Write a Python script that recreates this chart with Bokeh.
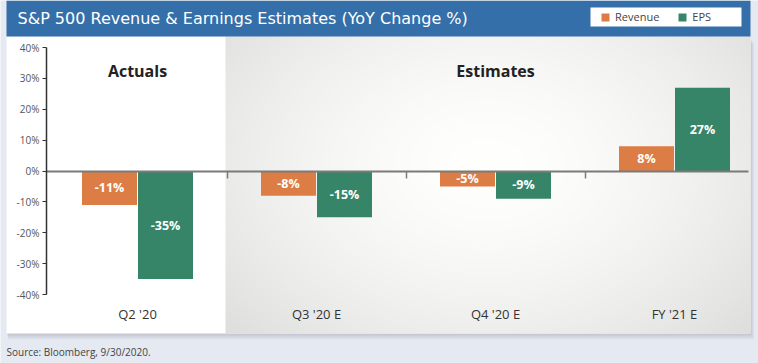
import numpy as np
from bokeh.plotting import figure
from bokeh.models import (Range1d, LinearAxis, FixedTicker, PrintfTickFormatter,
                          CustomJSTickFormatter, ColumnDataSource, Legend, LegendItem)
from bokeh.transform import dodge
from bokeh.core.properties import value
from bokeh.embed import file_html
from bokeh.resources import INLINE

# ---------------- data ----------------
categories = ["Q2 '20", "Q3 '20 E", "Q4 '20 E", "FY '21 E"]
revenue = [-11, -8, -5, 8]
eps = [-35, -15, -9, 27]
series = ["Revenue", "EPS"]
y_ticks = [-40, -30, -20, -10, 0, 10, 20, 30, 40]
group_names = ["Actuals", "Estimates"]
group_members = [[0], [1, 2, 3]]
title_text = "S&P 500 Revenue & Earnings Estimates (YoY Change %)"
source_note = "Source: Bloomberg, 9/30/2020."

# ---------------- styling ----------------
FONT = "Open Sans"
TITLE_FONT = "DejaVu Sans"
PAGE_BG = "#E5E9F1"
HEADER = "#346FA9"
REV_C = "#DD7D46"
EPS_C = "#368568"

W, H = 758, 363
OFF = 0

# page-pixel -> data mapping (layout helpers)
X_C0, X_STEP = 137.0, 179.0
Y_ZERO, Y_PX = 170.5, 247.0 / 80.0


def dx(px):
    return (px - X_C0) / X_STEP


def dy(py):
    return (Y_ZERO - py) / Y_PX


p = figure(width=W, height=H, output_backend="svg", toolbar_location=None,
           x_range=Range1d(dx(OFF), dx(OFF + W)), y_range=Range1d(dy(OFF + H), dy(OFF)),
           x_axis_location=None, y_axis_location=None, min_border=0)
p.outline_line_color = None
p.background_fill_color = PAGE_BG
p.border_fill_color = PAGE_BG
p.grid.grid_line_color = None

# ---------- panel + shadow ----------
for k in range(1, 7):
    p.quad(left=dx(6 + k * 0.3), right=dx(750 + k * 0.6), top=dy(37 + k), bottom=dy(333 + k),
           fill_color="#5a6478", fill_alpha=0.045, line_color=None)
p.quad(left=dx(6), right=dx(750), top=dy(36), bottom=dy(333), fill_color="white", line_color=None)

# right "estimates" area with soft radial gradient
gx0, gx1, gy0, gy1 = 225, 750, 36, 333
gw, gh = gx1 - gx0, gy1 - gy0
xs = gx0 + np.arange(gw) + 0.5
ys = gy1 - np.arange(gh) - 0.5  # row 0 at bottom
XX, YY = np.meshgrid(xs, ys)
d = np.sqrt(((XX - 487) / 330.0) ** 2 + ((YY - 165) / 235.0) ** 2)
shade = 255 - 30 * np.clip(d, 0, 1.15) ** 1.6
img = np.empty((gh, gw), dtype=np.uint32)
view = img.view(dtype=np.uint8).reshape((gh, gw, 4))
view[..., 0] = np.clip(shade, 0, 255).astype(np.uint8)
view[..., 1] = np.clip(shade, 0, 255).astype(np.uint8)
view[..., 2] = np.clip(shade - 2, 0, 255).astype(np.uint8)
view[..., 3] = 255
p.image_rgba(image=[img], x=dx(gx0), y=dy(gy1), dw=dx(gx1) - dx(gx0), dh=dy(gy0) - dy(gy1))

# ---------- header ----------
p.quad(left=dx(6), right=dx(750), top=dy(0), bottom=dy(36), fill_color=HEADER, line_color=None)
p.quad(left=dx(590), right=dx(741), top=dy(7), bottom=dy(26), fill_color="white", line_color=None)
p.text(x=[dx(17)], y=[dy(18)], text=[title_text], text_color="white",
       text_font=value(TITLE_FONT), text_font_size="16px", text_align="left", text_baseline="middle")

# ---------- group labels ----------
gsrc = ColumnDataSource(dict(x=[float(np.mean(m)) for m in group_members],
                             y=[dy(70)] * len(group_names), t=group_names))
p.text(x="x", y="y", text="t", source=gsrc, text_color="#222222", text_font=value(FONT),
       text_font_style="bold", text_font_size="16px", text_align="center", text_baseline="middle")

# ---------- bars ----------
BAR_W = 55.0 / X_STEP
SHIFT = 28.0 / X_STEP
src = ColumnDataSource(dict(
    idx=list(range(len(categories))),
    revenue=revenue, eps=eps,
    rev_mid=[v / 2 for v in revenue], eps_mid=[v / 2 for v in eps],
    rev_lbl=[f"{v}%" for v in revenue], eps_lbl=[f"{v}%" for v in eps],
))
r_rev = p.vbar(x=dodge("idx", -SHIFT), top="revenue", bottom=0, width=BAR_W, source=src,
               fill_color=REV_C, line_color=None)
r_eps = p.vbar(x=dodge("idx", SHIFT), top="eps", bottom=0, width=BAR_W, source=src,
               fill_color=EPS_C, line_color=None)
for col_x, col_y, col_t in ((-SHIFT, "rev_mid", "rev_lbl"), (SHIFT, "eps_mid", "eps_lbl")):
    p.text(x=dodge("idx", col_x), y=col_y, text=col_t, source=src, text_color="white",
           text_font=value(FONT), text_font_style="bold", text_font_size="12.5px",
           text_align="center", text_baseline="middle")

# ---------- axes ----------
yaxis = LinearAxis(fixed_location=dx(46), ticker=FixedTicker(ticks=y_ticks),
                   formatter=PrintfTickFormatter(format="%d%%"), bounds=(min(y_ticks), max(y_ticks)),
                   axis_line_color="#333333", axis_line_width=1.5,
                   major_tick_line_color="#333333", major_tick_line_width=1.2,
                   major_tick_out=4, major_tick_in=0, minor_tick_line_color=None,
                   major_label_standoff=3, major_label_text_font_size="10px",
                   major_label_text_color="#555555", major_label_text_font=FONT)
p.add_layout(yaxis, "left")

zero_axis = LinearAxis(fixed_location=0,
                       ticker=FixedTicker(ticks=[i + 0.5 for i in range(len(categories) - 1)]),
                       formatter=CustomJSTickFormatter(code="return ''"),
                       bounds=(dx(46), dx(748)),
                       axis_line_color="#7a7a7a", axis_line_width=1.8,
                       major_tick_line_color="#7a7a7a", major_tick_line_width=1.5,
                       major_tick_out=7, major_tick_in=0, minor_tick_line_color=None)
p.add_layout(zero_axis, "below")

cat_axis = LinearAxis(fixed_location=dy(304), ticker=FixedTicker(ticks=list(range(len(categories)))),
                      major_label_overrides={i: c for i, c in enumerate(categories)},
                      axis_line_color=None, major_tick_line_color=None, minor_tick_line_color=None,
                      major_tick_out=0, major_tick_in=0, major_label_standoff=0,
                      major_label_text_font_size="13px", major_label_text_color="#333333",
                      major_label_text_font=FONT)
p.add_layout(cat_axis, "below")

# ---------- legend ----------
legend = Legend(items=[LegendItem(label=series[0], renderers=[r_rev]),
                       LegendItem(label=series[1], renderers=[r_eps])],
                location=(600, 339), orientation="horizontal",
                background_fill_alpha=0, border_line_color=None,
                glyph_width=10, glyph_height=10, label_height=10, label_width=10,
                label_standoff=5, spacing=18, padding=3, margin=0,
                label_text_font=FONT, label_text_font_size="11px", label_text_color="#444444")
p.add_layout(legend, "center")

# ---------- source ----------
p.text(x=[dx(6)], y=[dy(351)], text=[source_note], text_color="#444444", text_font=value(FONT),
       text_font_size="10px", text_align="left", text_baseline="middle")

open("out.html", "w").write(file_html(p, INLINE))
